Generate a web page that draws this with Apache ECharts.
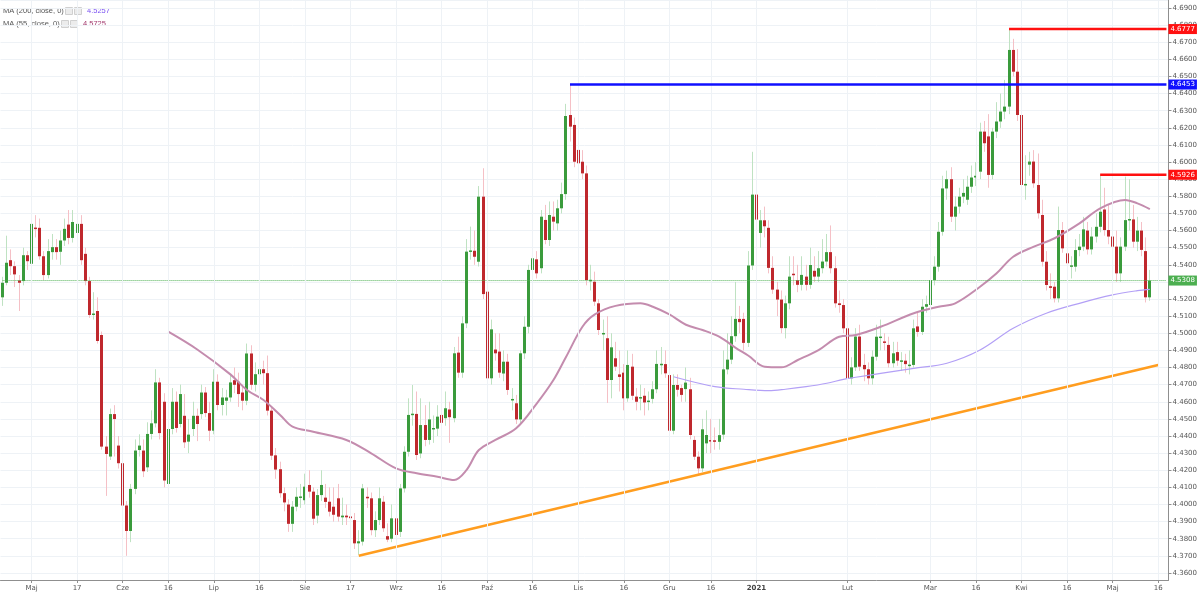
<!DOCTYPE html>
<html><head><meta charset="utf-8">
<script src="https://cdn.jsdelivr.net/npm/echarts@6.0.0/dist/echarts.min.js"></script>
<style>html,body{margin:0;padding:0;background:#fff}#c{width:1200px;height:597px}</style>
</head><body><div id="c"></div><script>
const opens = [
4.521,4.5295,4.5427,4.5392,4.5309,4.5305,4.5456,4.5406,4.5616,4.5616,
4.545,4.534,4.5474,4.5503,4.5476,4.5542,4.5635,4.5557,4.5586,4.5639,
4.5464,4.5305,4.5107,4.513,4.499,4.4338,4.428,4.4528,4.4344,4.4241,
4.3994,4.3845,4.4091,4.4318,4.4315,4.4217,4.4412,4.4474,4.4713,4.46,
4.412,4.4441,4.46,4.447,4.4518,4.4367,4.4441,4.4518,4.4528,4.4654,
4.4534,4.4431,4.4717,4.4581,4.4606,4.4625,4.4726,4.4717,4.4654,4.4606,
4.4882,4.4699,4.4761,4.479,4.4767,4.4548,4.4287,4.4206,4.4066,4.4,
4.3887,4.3987,4.404,4.4025,4.4114,4.4075,4.3935,4.4055,4.404,4.4016,
4.3987,4.4036,4.3925,4.3935,4.393,4.3909,4.3773,4.3783,4.4045,4.4036,
4.385,4.3909,4.4016,4.3815,4.38,4.3919,4.384,4.4094,4.4308,4.4523,
4.4529,4.4298,4.4464,4.4377,4.444,4.4443,4.4523,4.4504,4.4555,4.4504,
4.4887,4.477,4.5058,4.5477,4.5482,4.5418,4.5798,4.5243,4.4737,4.4905,
4.4893,4.4765,4.4834,4.461,4.4591,4.4497,4.4883,4.5038,4.537,4.5432,
4.538,4.5662,4.5545,4.5681,4.5642,4.573,4.5813,4.6275,4.6217,4.6071,
4.6002,4.5934,4.5305,4.5301,4.5175,4.4995,4.4971,4.4727,4.4854,4.476,
4.477,4.462,4.4805,4.463,4.462,4.4635,4.46,4.4617,4.4673,4.4815,
4.482,4.4756,4.4431,4.4698,4.468,4.4674,4.4673,4.4377,4.4279,4.4211,
4.4357,4.4374,4.4375,4.4366,4.4408,4.4789,4.4846,4.4983,4.5084,4.5084,
4.4944,4.5396,4.581,4.5586,4.566,4.5616,4.5382,4.5255,4.5197,4.503,
4.5175,4.5347,4.531,4.5283,4.5331,4.5283,4.5365,4.5331,4.538,4.5419,
4.5474,4.538,4.5175,4.5165,4.5029,4.4737,4.4801,4.4981,4.4815,4.479,
4.4737,4.4863,4.4975,4.495,4.4932,4.4825,4.489,4.4835,4.484,4.481,
4.4815,4.504,4.5008,4.5155,4.5165,4.5311,4.5389,4.5593,4.5846,4.59,
4.5681,4.574,4.5798,4.578,4.5856,4.591,4.5944,4.6178,4.615,4.5925,
4.6178,4.6237,4.6295,4.6324,4.6655,4.6528,4.6275,4.5866,4.5985,4.6003,
4.5866,4.5691,4.5418,4.5275,4.5272,4.5204,4.5603,4.5467,4.539,4.5389,
4.5486,4.5506,4.56,4.549,4.5565,4.5622,4.5723,4.5603,4.5565,4.5506,
4.535,4.5506,4.5661,4.5665,4.5535,4.56,4.548,4.521];
const closes = [
4.5295,4.5412,4.5392,4.5344,4.5295,4.5456,4.5421,4.5639,4.561,4.545,
4.534,4.548,4.5503,4.5474,4.5542,4.561,4.5557,4.565,4.5639,4.5427,
4.5305,4.5107,4.5115,4.4955,4.4338,4.4295,4.4528,4.4499,4.4241,4.3994,
4.3845,4.4091,4.4315,4.4344,4.4194,4.4412,4.4474,4.4713,4.4417,4.414,
4.4441,4.46,4.4447,4.4645,4.4363,4.4408,4.4518,4.447,4.4654,4.4534,
4.4431,4.4717,4.4581,4.4625,4.4625,4.4713,4.4699,4.4645,4.4606,4.4882,
4.4699,4.4761,4.479,4.4767,4.4548,4.4285,4.4204,4.4066,4.4012,4.3887,
4.3987,4.4045,4.4045,4.4104,4.4075,4.3917,4.4055,4.4114,4.4015,4.3958,
4.394,4.3929,4.3935,4.3925,4.392,4.3773,4.3785,4.4094,4.4036,4.385,
4.3909,4.4036,4.3861,4.3795,4.3919,4.3822,4.4094,4.4308,4.4523,4.4529,
4.4289,4.4464,4.4377,4.4497,4.4445,4.4513,4.4477,4.4562,4.451,4.4883,
4.477,4.5058,4.5477,4.5482,4.5447,4.5798,4.5229,4.4737,4.5023,4.4883,
4.477,4.4834,4.4669,4.4614,4.4497,4.4883,4.5038,4.537,4.5438,4.535,
4.5681,4.5545,4.5691,4.5652,4.573,4.5813,4.6269,4.6207,4.6002,4.5993,
4.5934,4.5311,4.5311,4.5185,4.5019,4.5,4.4727,4.4918,4.4805,4.4745,
4.462,4.4815,4.4635,4.46,4.4626,4.4596,4.4605,4.4673,4.4821,4.482,
4.4766,4.4431,4.4698,4.467,4.464,4.4712,4.4406,4.4279,4.4211,4.4439,
4.4406,4.437,4.4366,4.4405,4.4789,4.4846,4.4983,4.5084,4.5065,4.4944,
4.5396,4.581,4.5664,4.566,4.5625,4.5382,4.5255,4.5197,4.503,4.5175,
4.5331,4.534,4.5283,4.5341,4.5283,4.5399,4.5331,4.538,4.5419,4.5474,
4.538,4.5175,4.5165,4.5029,4.4737,4.4801,4.4981,4.4805,4.479,4.4737,
4.4863,4.498,4.4978,4.4946,4.4825,4.4883,4.484,4.484,4.482,4.4815,
4.5029,4.5008,4.5155,4.517,4.5311,4.5389,4.5593,4.5846,4.59,4.5681,
4.574,4.5798,4.582,4.5856,4.591,4.592,4.6178,4.611,4.5925,4.6178,
4.6237,4.6295,4.6324,4.6655,4.6528,4.6275,4.5866,4.587,4.6003,4.5876,
4.5701,4.5418,4.5282,4.5265,4.5204,4.5603,4.5496,4.5409,4.5395,4.5486,
4.5506,4.5607,4.549,4.5565,4.5622,4.571,4.5603,4.5565,4.5506,4.535,
4.5506,4.5661,4.5665,4.5535,4.56,4.5487,4.521,4.5308];
const lows = [
4.516,4.528,4.534,4.527,4.513,4.528,4.537,4.538,4.556,4.543,
4.531,4.532,4.543,4.543,4.540,4.551,4.552,4.553,4.555,4.540,
4.528,4.509,4.508,4.494,4.432,4.405,4.426,4.428,4.421,4.397,
4.370,4.378,4.406,4.428,4.416,4.419,4.438,4.445,4.438,4.410,
4.408,4.441,4.442,4.445,4.433,4.430,4.440,4.437,4.450,4.451,
4.437,4.441,4.455,4.452,4.452,4.460,4.465,4.457,4.455,4.458,
4.467,4.466,4.471,4.470,4.452,4.426,4.415,4.404,4.396,4.384,
4.384,4.396,4.398,4.400,4.404,4.388,4.389,4.402,4.398,4.393,
4.390,4.390,4.388,4.388,4.386,4.374,4.3706,4.376,4.398,4.382,
4.381,4.388,4.384,4.378,4.378,4.380,4.381,4.407,4.428,4.446,
4.426,4.427,4.434,4.435,4.436,4.440,4.440,4.446,4.436,4.448,
4.474,4.474,4.503,4.543,4.540,4.539,4.520,4.470,4.470,4.484,
4.474,4.472,4.464,4.455,4.447,4.447,4.485,4.500,4.532,4.532,
4.535,4.552,4.551,4.560,4.560,4.570,4.578,4.612,4.597,4.596,
4.590,4.528,4.525,4.516,4.499,4.490,4.4593,4.462,4.478,4.466,
4.455,4.460,4.461,4.455,4.455,4.452,4.455,4.459,4.465,4.476,
4.474,4.440,4.441,4.463,4.460,4.460,4.438,4.426,4.417,4.419,
4.430,4.430,4.432,4.432,4.438,4.476,4.482,4.495,4.500,4.490,
4.492,4.537,4.560,4.550,4.556,4.535,4.523,4.510,4.500,4.497,
4.514,4.528,4.524,4.525,4.525,4.526,4.530,4.530,4.535,4.539,
4.535,4.515,4.512,4.500,4.468,4.470,4.478,4.478,4.472,4.470,
4.470,4.484,4.490,4.490,4.480,4.480,4.481,4.478,4.477,4.476,
4.480,4.498,4.499,4.512,4.514,4.528,4.536,4.557,4.578,4.565,
4.560,4.570,4.576,4.575,4.582,4.586,4.590,4.606,4.585,4.590,
4.614,4.620,4.625,4.628,4.650,4.624,4.583,4.578,4.592,4.585,
4.567,4.539,4.525,4.520,4.518,4.518,4.547,4.538,4.532,4.536,
4.545,4.548,4.546,4.546,4.553,4.559,4.557,4.552,4.546,4.530,
4.530,4.548,4.560,4.550,4.548,4.545,4.518,4.519];
const highs = [
4.533,4.557,4.549,4.542,4.534,4.550,4.548,4.5713,4.569,4.567,
4.548,4.555,4.558,4.555,4.560,4.567,4.572,4.572,4.5693,4.569,
4.550,4.533,4.524,4.521,4.501,4.440,4.456,4.458,4.440,4.427,
4.402,4.412,4.438,4.441,4.438,4.448,4.455,4.479,4.474,4.465,
4.449,4.468,4.466,4.470,4.4645,4.450,4.460,4.456,4.470,4.4686,
4.460,4.479,4.476,4.468,4.467,4.476,4.480,4.477,4.470,4.494,
4.493,4.483,4.490,4.484,4.487,4.457,4.433,4.425,4.410,4.403,
4.402,4.410,4.412,4.418,4.420,4.410,4.409,4.420,4.412,4.410,
4.410,4.412,4.404,4.400,4.398,4.395,4.385,4.412,4.410,4.407,
4.396,4.410,4.405,4.389,4.400,4.396,4.412,4.434,4.462,4.4698,
4.466,4.462,4.458,4.460,4.452,4.458,4.462,4.466,4.460,4.492,
4.498,4.510,4.555,4.5623,4.560,4.586,4.5964,4.530,4.508,4.500,
4.500,4.490,4.488,4.468,4.464,4.490,4.510,4.540,4.560,4.548,
4.572,4.575,4.577,4.577,4.578,4.588,4.634,4.6453,4.626,4.612,
4.607,4.598,4.540,4.536,4.520,4.508,4.510,4.500,4.495,4.490,
4.482,4.490,4.488,4.468,4.470,4.468,4.466,4.472,4.490,4.492,
4.490,4.478,4.476,4.476,4.470,4.480,4.474,4.440,4.431,4.450,
4.455,4.450,4.445,4.450,4.490,4.500,4.510,4.530,4.516,4.512,
4.548,4.606,4.6226,4.572,4.574,4.566,4.545,4.530,4.525,4.522,
4.545,4.545,4.540,4.545,4.540,4.550,4.545,4.548,4.555,4.558,
4.563,4.545,4.525,4.520,4.510,4.486,4.503,4.505,4.488,4.483,
4.490,4.505,4.508,4.500,4.498,4.495,4.495,4.489,4.488,4.490,
4.508,4.512,4.520,4.522,4.535,4.545,4.565,4.592,4.595,4.597,
4.580,4.585,4.590,4.592,4.598,4.600,4.623,4.624,4.628,4.620,
4.635,4.640,4.648,4.6777,4.672,4.666,4.640,4.604,4.606,4.607,
4.605,4.578,4.548,4.535,4.530,4.574,4.565,4.556,4.545,4.555,
4.558,4.568,4.565,4.562,4.570,4.5926,4.585,4.575,4.565,4.560,
4.556,4.5915,4.590,4.575,4.568,4.565,4.556,4.537];

// moving averages: [bar index, value]
const ma55 = [[40,4.5009],[47,4.4905],[55,4.4760],[59,4.4669],[63,4.4610],[67,4.4523],[70,4.4455],[75,4.4425],[83,4.4377],[89,4.4299],[95,4.4211],[100,4.4182],[105,4.4162],[109,4.4143],[112,4.4201],[115,4.4318],[119,4.4377],[124,4.4445],[129,4.4591],[133,4.4727],[136,4.4860],[140,4.5038],[143,4.5110],[148,4.5160],[154,4.5175],[157,4.5155],[161,4.5110],[165,4.5050],[169,4.5019],[173,4.4980],[177,4.4915],[180,4.4870],[184,4.4805],[188,4.4801],[192,4.4844],[197,4.4902],[202,4.4980],[206,4.4990],[212,4.5038],[220,4.5117],[226,4.5155],[230,4.5175],[236,4.5272],[240,4.5350],[244,4.5447],[249,4.5506],[254,4.5555],[260,4.5642],[265,4.5730],[271,4.5779],[274,4.5759],[277,4.5725]];
const ma200 = [[162,4.4746],[172,4.4688],[179,4.4673],[185,4.4665],[189,4.4673],[194,4.4688],[199,4.4708],[203,4.4731],[206,4.4743],[212,4.4766],[220,4.4795],[228,4.4825],[236,4.4902],[244,4.5029],[252,4.5117],[260,4.5175],[268,4.5224],[274,4.5249],[277,4.5257]];
const trendLine = [[86,4.3700],[279,4.4815]];
const levelBlue = 4.6453, levelBlueStart = 137;
const levelRedTop = 4.6777, levelRedTopStart = 243;
const levelRedLow = 4.5926, levelRedLowStart = 265;
const lastPrice = 4.5308;
const legendValues = {ma200: '4.5257', ma55: '4.5725'};
const xTicks = [[7,'Maj'],[18,'17'],[29,'Cze'],[40,'16'],[51,'Lip'],[62,'16'],[73,'Sie'],[84,'17'],[95,'Wrz'],[106,'16'],[117,'Paź'],[128,'16'],[139,'Lis'],[150,'16'],[161,'Gru'],[171,'16'],[182,'2021'],[204,'Lut'],[224,'Mar'],[235,'16'],[246,'Kwi'],[257,'16'],[268,'Maj'],[279,'16']];
const totalSlots = 282;

const dates = [];
{ let d = new Date(Date.UTC(2020,3,22));
  while (dates.length < totalSlots) { const wd = d.getUTCDay(); if (wd !== 0 && wd !== 6) dates.push(d.toISOString().slice(0,10)); d.setUTCDate(d.getUTCDate()+1); } }
const tickMap = {}; xTicks.forEach(t => tickMap[t[0]] = t[1]);
const candleData = opens.map((o,i) => [i, o, closes[i], lows[i], highs[i]]);
const lastIdx = totalSlots - 1;

const GRID_LEFT = 0.5, STEP = 4.161;
const chart = echarts.init(document.getElementById('c'), null, {renderer:'canvas'});

function renderCandle(params, api) {
  const i = api.value(0), o = api.value(1), c = api.value(2), l = api.value(3), h = api.value(4);
  const pO = api.coord([i,o]), pC = api.coord([i,c]), pL = api.coord([i,l]), pH = api.coord([i,h]);
  const xc = Math.round(pO[0] - 0.5) + 0.5;
  const up = c >= o;
  let top = Math.min(pO[1], pC[1]); let hh = Math.abs(pO[1] - pC[1]);
  if (hh < 1.5) { top -= (1.5 - hh)/2; hh = 1.5; }
  return {type:'group', children:[
    {type:'line', shape:{x1:xc, y1:pH[1], x2:xc, y2:pL[1]}, style:{stroke: up ? '#bfe2c2' : '#f5c0c6', lineWidth:1}},
    {type:'rect', shape:{x:xc-1.5, y:top, width:3, height:hh}, style:{fill: up ? '#3a9b3c' : '#bf282d'}}
  ]};
}

const axisFont = 'DejaVu Sans';
function hLine(name, start, value, color, width, type, labelText, z) {
  return {name, type:'line', data:[[start,value],[lastIdx,value]], symbol:'none', silent:true, z,
    lineStyle:{color, width, type: type || 'solid'},
    endLabel:{show:true, formatter: labelText, color:'#fff', backgroundColor: color, padding:[2,2,1,2], fontSize:7, fontFamily: axisFont, distance:2}};
}

const option = {
  animation:false,
  backgroundColor:'#ffffff',
  grid:{left:GRID_LEFT, top:0, width: totalSlots*STEP, height:580, containLabel:false},
  xAxis:{type:'category', data: dates, boundaryGap:true,
    axisLine:{show:true, lineStyle:{color:'#8f8f8f'}},
    axisTick:{show:true, alignWithLabel:true, interval:(i)=> (i in tickMap), length:3, lineStyle:{color:'#8f8f8f'}},
    axisLabel:{interval:(i)=> (i in tickMap), formatter:(v,i)=> tickMap[i]==='2021' ? '{b|2021}' : (tickMap[i]||''), color:'#555', fontSize:7, fontFamily: axisFont, margin:5,
      rich:{b:{fontWeight:'bold', fontSize:7, color:'#444', fontFamily: axisFont}}},
    splitLine:{show:false}},
  yAxis:{type:'value', position:'right', min:4.355888, max:4.694673, minInterval:0.01, maxInterval:0.01, splitNumber:34,
    axisLine:{show:true, lineStyle:{color:'#8f8f8f'}},
    axisTick:{show:true, length:3, lineStyle:{color:'#8f8f8f'}},
    axisLabel:{formatter:(v)=> v.toFixed(4), color:'#555', fontSize:7, fontFamily: axisFont, margin:4, showMinLabel:false, showMaxLabel:false},
    splitLine:{show:true, lineStyle:{color:'#eef2f6', width:1}}},
  series:[
    {name:'vgrid', type:'line', data:[], silent:true, z:1,
      markLine:{silent:true, symbol:'none', label:{show:false}, lineStyle:{color:'#eef2f6', width:1, type:'solid'},
        data: xTicks.map(t => ({xAxis: t[0]}))}},
    {name:'candles', type:'custom', renderItem: renderCandle, data: candleData, encode:{x:0, y:[1,2,3,4]}, z:2, clip:true},
    {name:'MA55', type:'line', data: ma55, symbol:'none', smooth:0.35, z:3, silent:true, lineStyle:{color:'#c48cae', width:2}},
    {name:'MA200', type:'line', data: ma200, symbol:'none', smooth:0.35, z:3, silent:true, lineStyle:{color:'#b3a0f6', width:1.2}},
    {name:'trend', type:'line', data: trendLine, symbol:'none', z:4, silent:true, lineStyle:{color:'#ff9d1f', width:2.5}},
    hLine('last', 0, lastPrice, '#4caf50', 1, 'dotted', '4.5308', 3),
    hLine('blue', levelBlueStart, levelBlue, '#1010ff', 2.5, 'solid', '4.6453', 5),
    hLine('redTop', levelRedTopStart, levelRedTop, '#ff1010', 2.5, 'solid', '4.6777', 5),
    hLine('redLow', levelRedLowStart, levelRedLow, '#ff1010', 2.5, 'solid', '4.5926', 5)
  ],
  graphic:[
    {type:'text', x:3, y:11, style:{text:'MA (200, close, 0)', fill:'#555', font:'7.5px "Liberation Sans"', verticalAlign:'middle'}},
    {type:'rect', shape:{x:65.5, y:7.5, width:7, height:7}, style:{fill:'#ececec', stroke:'#d0d0d0', lineWidth:1}},
    {type:'rect', shape:{x:74.5, y:7.5, width:7, height:7}, style:{fill:'#ececec', stroke:'#d0d0d0', lineWidth:1}},
    {type:'text', x:87, y:11, style:{text: legendValues.ma200, fill:'#7b52f2', font:'7.5px "Liberation Sans"', verticalAlign:'middle'}},
    {type:'text', x:3, y:24, style:{text:'MA (55, close, 0)', fill:'#555', font:'7.5px "Liberation Sans"', verticalAlign:'middle'}},
    {type:'rect', shape:{x:61.5, y:20.5, width:7, height:7}, style:{fill:'#ececec', stroke:'#d0d0d0', lineWidth:1}},
    {type:'rect', shape:{x:70.5, y:20.5, width:7, height:7}, style:{fill:'#ececec', stroke:'#d0d0d0', lineWidth:1}},
    {type:'text', x:83, y:24, style:{text: legendValues.ma55, fill:'#a2386c', font:'7.5px "Liberation Sans"', verticalAlign:'middle'}}
  ]
};
chart.setOption(option);
</script></body></html>
